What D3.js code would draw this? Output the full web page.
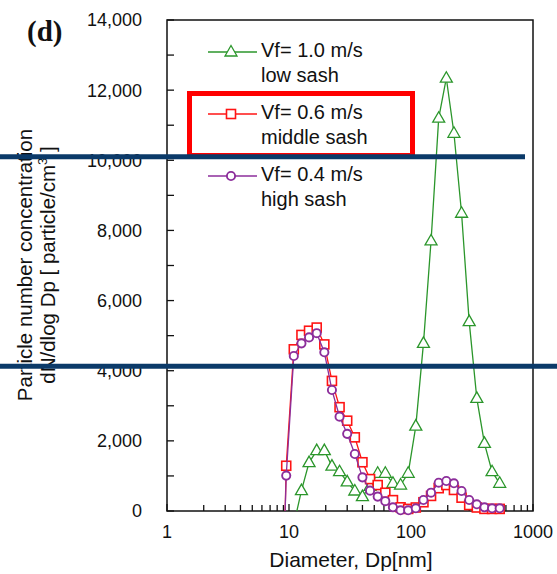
<!DOCTYPE html>
<html>
<head>
<meta charset="utf-8">
<script src="https://cdn.jsdelivr.net/npm/d3@7"></script>
<style>
  body { margin: 0; background: #fff; }
  text { font-family: "Liberation Sans", Arial, sans-serif; fill: #111; }
</style>
</head>
<body>
<div class="container"></div>
<script>
// particle diameters [nm], SMPS channels (first entry = where the curve leaves zero)
const diam = [9.3, 9.49, 10.95, 12.65, 14.6, 16.87, 19.48, 22.49, 25.97, 29.99, 34.63,
  39.99, 46.18, 53.33, 61.58, 71.12, 82.12, 94.84, 109.5, 126.5, 146.0,
  168.7, 194.8, 224.9, 259.7, 299.9, 346.3, 399.9, 461.8, 533.3]
const diamLow = [11.6, 12.65, 14.6, 16.87, 19.48, 22.49, 25.97, 29.99, 34.63,
  39.99, 46.18, 53.33, 61.58, 71.12, 82.12, 94.84, 109.5, 126.5, 146.0,
  168.7, 194.8, 224.9, 259.7, 299.9, 346.3, 399.9, 461.8, 533.3]

// dN/dlogDp values
const lowSash = [0, 580, 1380, 1720, 1720, 1280, 1120, 830, 570, 410, 700,
  1075, 1075, 790, 740, 1075, 2420, 4780, 7700, 11200, 12340,
  10770, 8490, 5400, 3210, 1930, 1120, 790]
const middleSash = [0, 1290, 4610, 5020, 5140, 5230, 4750, 3710, 2960, 2575, 2100,
  1390, 910, 740, 520, 310, 105, 60, 100, 250, 430,
  650, 740, 600, 380, 170, 100, 60, 60, 60]
const highSash = [0, 1010, 4420, 4780, 4950, 5070, 4525, 3450, 2690, 2200, 1625,
  960, 580, 410, 280, 105, 20, 20, 77, 314, 522,
  807, 855, 790, 570, 314, 191, 105, 77, 77]

const legendLine1 = ["Vf= 1.0 m/s", "Vf= 0.6 m/s", "Vf= 0.4 m/s"]
const legendLine2 = ["low sash", "middle sash", "high sash"]
const xTicks = [1, 10, 100, 1000]
const yTicks = [0, 2000, 4000, 6000, 8000, 10000, 12000, 14000]

const w = 557
const h = 574

const svg = d3.select(".container")
              .append("svg")
              .attr("width", w)
              .attr("height", h)

const xScale = d3.scaleLog().domain([1, 1000]).range([167, 533])
const yScale = d3.scaleLinear().domain([0, 14000]).range([511, 20])

const green = "#2b962b"
const red = "#ff1414"
const purple = "#8c2e9b"

const series = [
    {x: diamLow, y: lowSash, color: green, shape: "tri"},
    {x: diam, y: middleSash, color: red, shape: "sq"},
    {x: diam, y: highSash, color: purple, shape: "circ"}
]

function drawMarker(g, shape, color, cx, cy){
    if (shape == "tri") {
        g.append("path")
         .attr("d", `M${cx},${cy-6.5} L${cx+6},${cy+4} L${cx-6},${cy+4} Z`)
         .attr("fill", "#fff").attr("stroke", color).attr("stroke-width", 1.3)
    } else if (shape == "sq") {
        g.append("rect")
         .attr("x", cx-4.5).attr("y", cy-4.5).attr("width", 9).attr("height", 9)
         .attr("fill", "#fff").attr("stroke", color).attr("stroke-width", 1.6)
    } else {
        g.append("circle")
         .attr("cx", cx).attr("cy", cy).attr("r", 4.1)
         .attr("fill", "#fff").attr("stroke", color).attr("stroke-width", 1.9)
    }
}

// axes box
const axisG = svg.append("g")
axisG.append("rect")
     .attr("x", xScale(1)).attr("y", yScale(14000))
     .attr("width", xScale(1000) - xScale(1)).attr("height", yScale(0) - yScale(14000))
     .attr("fill", "none").attr("stroke", "#111").attr("stroke-width", 1.5)

// y ticks (inside)
const yMinor = d3.range(0, 14001, 1000)
axisG.selectAll(".ytick")
     .data(yMinor)
     .enter()
     .append("line")
     .attr("x1", xScale(1)).attr("x2", xScale(1) + 7)
     .attr("y1", d => yScale(d)).attr("y2", d => yScale(d))
     .attr("stroke", "#111").attr("stroke-width", 1.3)

axisG.selectAll(".ylab")
     .data(yTicks)
     .enter()
     .append("text")
     .attr("x", 142)
     .attr("y", d => yScale(d))
     .attr("dy", "0.36em")
     .attr("text-anchor", "end")
     .style("font-size", "18px")
     .text(d => d3.format(",")(d))

// x ticks, log minor ticks
const xMinor = xScale.ticks()
axisG.selectAll(".xtick")
     .data(xMinor)
     .enter()
     .append("line")
     .attr("x1", d => xScale(d)).attr("x2", d => xScale(d))
     .attr("y1", yScale(0)).attr("y2", d => yScale(0) - (xTicks.includes(d) ? 7 : 6))
     .attr("stroke", "#111").attr("stroke-width", 1.3)

axisG.selectAll(".xlab")
     .data(xTicks)
     .enter()
     .append("text")
     .attr("x", d => xScale(d))
     .attr("y", 538)
     .attr("text-anchor", "middle")
     .style("font-size", "18px")
     .text(d => d)

// axis titles
svg.append("text")
   .attr("x", 351).attr("y", 567)
   .attr("text-anchor", "middle")
   .style("font-size", "21px")
   .text("Diameter, Dp[nm]")

const yTitle = svg.append("text")
   .attr("transform", "translate(32,265) rotate(-90)")
   .attr("text-anchor", "middle")
   .style("font-size", "20.5px")
yTitle.append("tspan").attr("x", 0).attr("y", 0).text("Particle number concentration")
const l2 = yTitle.append("tspan").attr("x", 0).attr("y", 23).text("dN/dlog Dp [ particle/cm")
l2.append("tspan").attr("dy", -8).style("font-size", "13px").text("3")
l2.append("tspan").attr("dy", 8).text(" ]")

svg.append("text")
   .attr("x", 27).attr("y", 41)
   .style("font-family", "'Liberation Serif', 'DejaVu Serif', serif")
   .style("font-weight", "bold")
   .style("font-size", "29px")
   .text("(d)")

// data lines and markers (no marker where the curve sits at zero)
const line = d3.line()
series.forEach(s => {
    const pts = s.x.map((d, i) => [xScale(d), yScale(s.y[i]), s.y[i]])
    svg.append("path")
       .attr("d", line(pts))
       .attr("fill", "none")
       .attr("stroke", s.color)
       .attr("stroke-width", 1.3)
    const mg = svg.append("g")
    pts.filter(p => p[2] > 0).forEach(p => drawMarker(mg, s.shape, s.color, p[0], p[1]))
})

// legend
const legend = svg.append("g")
series.forEach((s, i) => {
    const yb = 57 + i * 62
    legend.append("line")
          .attr("x1", 208).attr("x2", 257)
          .attr("y1", yb - 5).attr("y2", yb - 5)
          .attr("stroke", s.color).attr("stroke-width", 1.3)
    drawMarker(legend, s.shape, s.color, 231, yb - 5)
    legend.append("text").attr("x", 261).attr("y", yb)
          .style("font-size", "20px").text(legendLine1[i])
    legend.append("text").attr("x", 261).attr("y", yb + 25)
          .style("font-size", "20px").text(legendLine2[i])
})

// highlight box and overlay bars
svg.append("rect")
   .attr("x", 189.5).attr("y", 93.5).attr("width", 223).attr("height", 62)
   .attr("fill", "none").attr("stroke", "#ff0000").attr("stroke-width", 5)

svg.append("line")
   .attr("x1", 0).attr("x2", 525)
   .attr("y1", yScale(10100)).attr("y2", yScale(10100))
   .attr("stroke", "#0b3a69").attr("stroke-width", 5)
svg.append("line")
   .attr("x1", 0).attr("x2", w)
   .attr("y1", yScale(4130)).attr("y2", yScale(4130))
   .attr("stroke", "#0b3a69").attr("stroke-width", 5)
</script>
</body>
</html>
